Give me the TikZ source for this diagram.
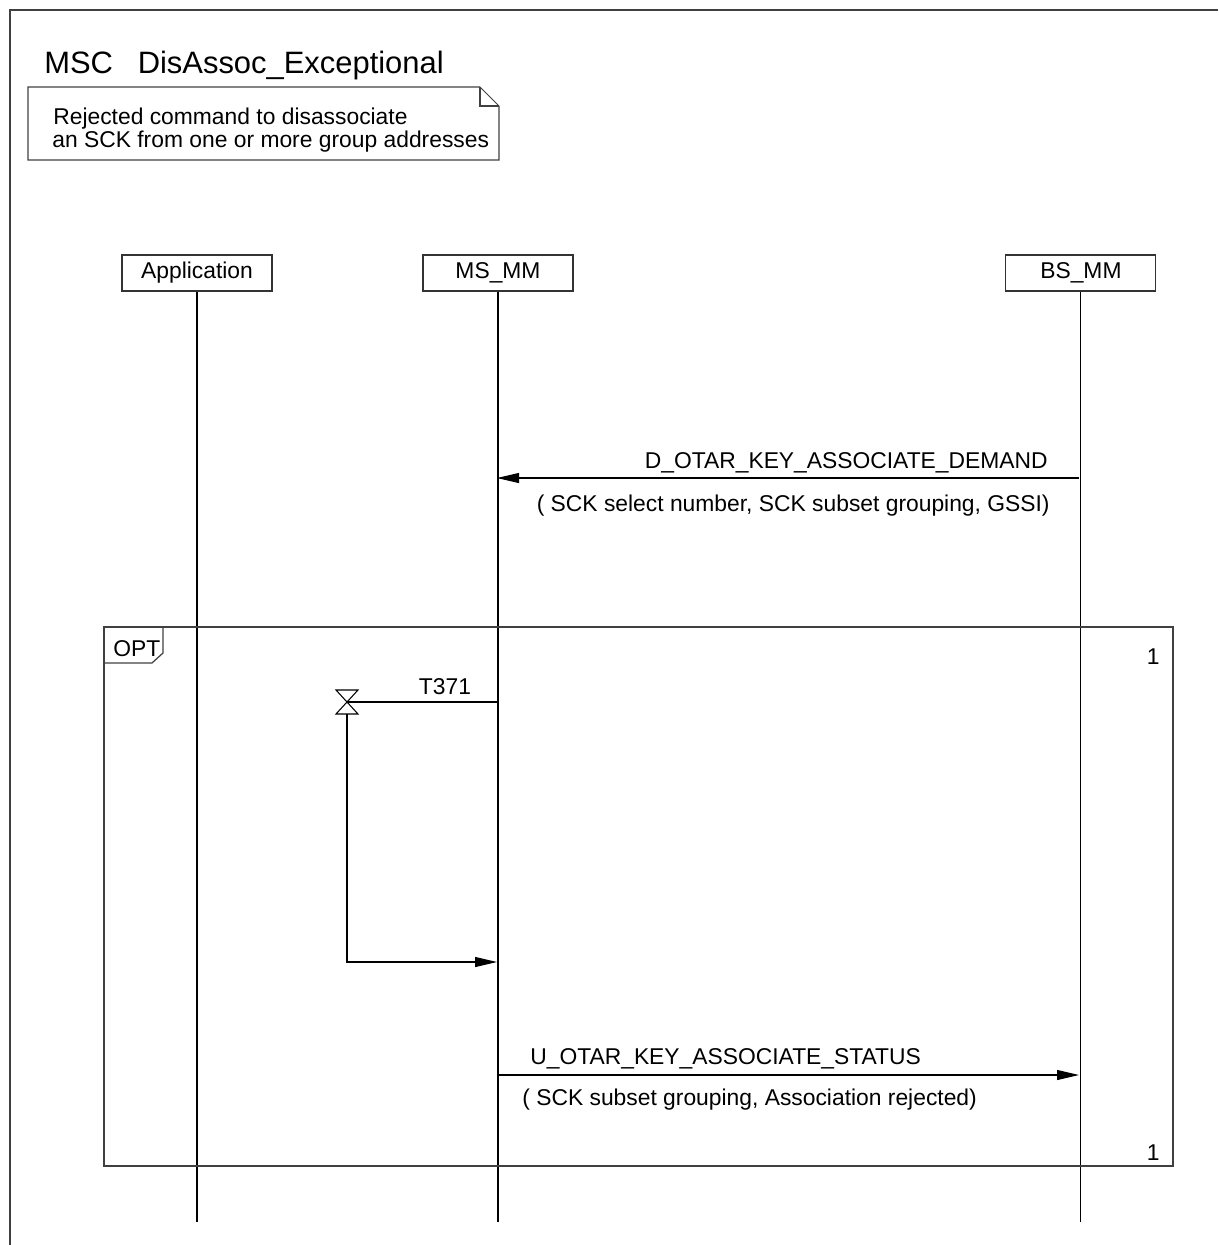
\documentclass[tikz,border=0pt]{standalone}
\usepackage{fontspec}
\setmainfont{Liberation Sans}
\usepackage{tikz}
\usetikzlibrary{arrows.meta, positioning}

\begin{document}
\begin{tikzpicture}[
  x=0.02cm, y=-0.02cm,
  every node/.style={inner sep=0pt, font=\fontsize{13}{15}\selectfont},
  inst/.style={rectangle, draw=black!80, line width=0.6pt,
               minimum width=3cm, minimum height=0.72cm},
  life/.style={line width=0.6pt, black},
  msg/.style={-{Triangle[length=0.44cm, width=0.2cm]}, line width=0.6pt, black},
  frm/.style={line width=0.7pt, black!75},
  lbl/.style={anchor=base west},
  rlbl/.style={anchor=base east}
]
\useasboundingbox (0,0) rectangle (1218,1245);
%% Frame and heading
\draw[frm] (10,1245) -- (10,10) -- (1218,10);
\node[lbl, font=\fontsize{17.6}{20}\selectfont] (title) at (44,73)
  {MSC\hspace{0.8em}DisAssoc\_Exceptional};
\draw[frm, line width=0.6pt] (28,87) -- (480,87) -- (499,106) -- (499,160) -- (28,160) -- cycle;
\draw[frm, line width=0.6pt] (480,87) -- (480,106) -- (499,106);
\node[lbl] (notea) at (53,124) {Rejected command to disassociate};
\node[lbl] (noteb) at (52,147) {an SCK from one or more group addresses};
%% Instances
\node[inst] (app) at (197,273) {Application};
\node[inst, right=3cm of app] (msmm) {MS\_MM};
\node[inst, right=8.64cm of msmm] (bsmm) {BS\_MM};
\coordinate (lifeEnd) at (0,1222);
\foreach \n in {app,msmm,bsmm}{
  \draw[life] (\n.south) -- (\n.south |- lifeEnd);}
%% D_OTAR_KEY_ASSOCIATE_DEMAND
\coordinate (dmA) at (1079,478);
\coordinate (dmB) at (497,478);
\draw[msg] (dmA) -- (dmB);
\node[rlbl] (dmlbl) at (1048,468) {D\_OTAR\_KEY\_ASSOCIATE\_DEMAND};
\node[rlbl] (dmpar) at (1050,511) {( SCK select number, SCK subset grouping, GSSI)};
%% OPT region
\draw[frm] (104,627) rectangle (1173,1166);
\draw[frm] (163,627) -- (163,653) -- (152,663) -- (104,663);
\node[lbl] (opt) at (113,656) {OPT};
\node[rlbl] (optone) at (1160,664) {1};
\node[rlbl] (opttwo) at (1160,1160) {1};
%% Timer T371
\coordinate (tmA) at (497,702);
\coordinate (tmB) at (347,702);
\coordinate (tmC) at (347,962);
\coordinate (tmD) at (497,962);
\draw[life] (tmA) -- (tmB);
\draw[life] (336,690) -- (358,690) -- (336,714) -- (358,714) -- cycle;
\node[anchor=base] (tmlbl) at (445,694) {T371};
\draw[msg] (347,714) -- (tmC) -- (tmD);
%% U_OTAR_KEY_ASSOCIATE_STATUS
\coordinate (stA) at (497,1075);
\coordinate (stB) at (1079,1075);
\draw[msg] (stA) -- (stB);
\node[lbl] (stlbl) at (530,1064) {U\_OTAR\_KEY\_ASSOCIATE\_STATUS};
\node[lbl] (stpar) at (522,1105) {( SCK subset grouping, Association rejected)};
\end{tikzpicture}
\end{document}
